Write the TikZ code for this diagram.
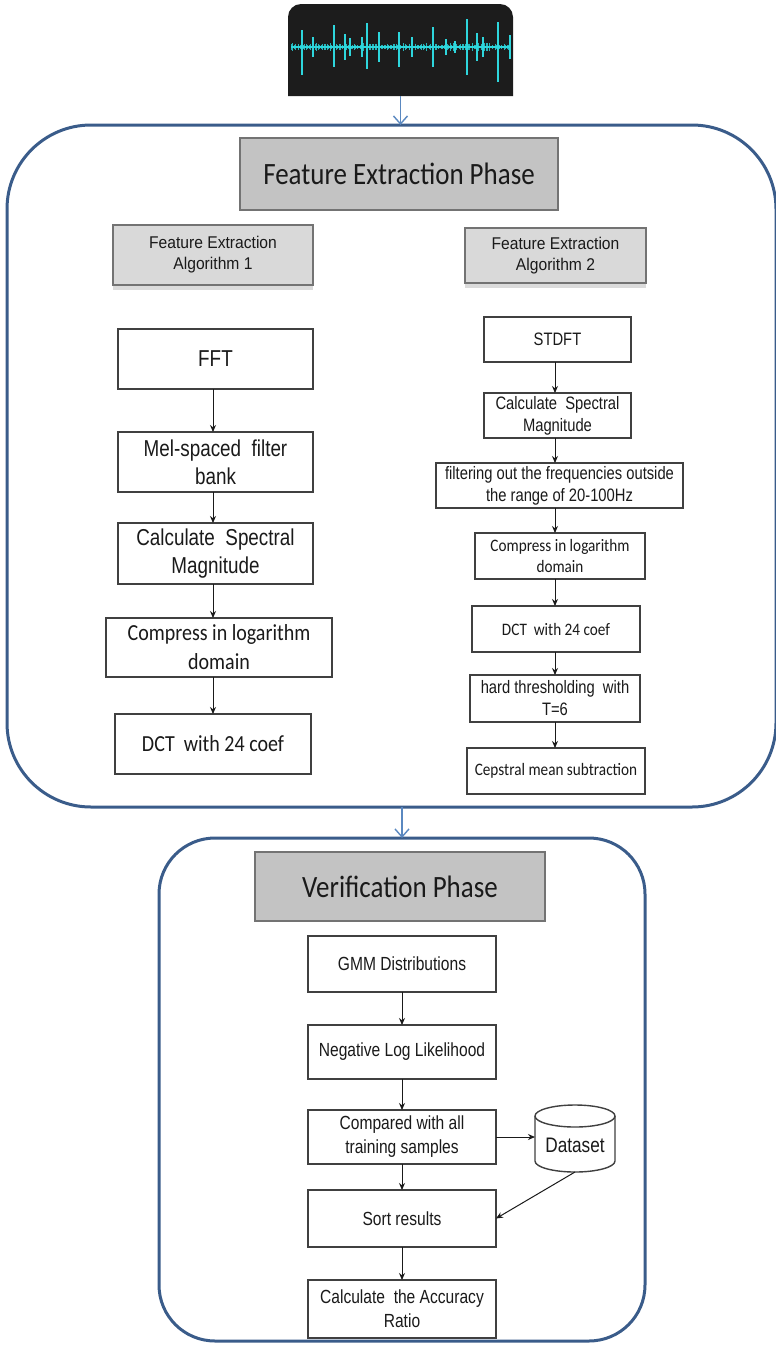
\documentclass[tikz,border=0pt]{standalone}
\usepackage{fontspec}
\setmainfont{Liberation Sans}
\newfontfamily\narr[FakeStretch=0.82]{Liberation Sans}
\newfontfamily\wider[FakeStretch=0.92]{Liberation Sans}
\newfontfamily\calib[FakeStretch=0.87]{Carlito}
\usetikzlibrary{arrows.meta,shadows,calc}

\definecolor{wavebg}{HTML}{1C1C1C}
\definecolor{wavecyan}{HTML}{2ED6DC}
\definecolor{phaseline}{HTML}{3A5C8A}
\definecolor{phasearrow}{HTML}{5A88C0}
\definecolor{headfill}{HTML}{C3C3C3}
\definecolor{subfill}{HTML}{D9D9D9}
\definecolor{frameline}{HTML}{737373}
\definecolor{boxline}{HTML}{404040}
\definecolor{ink}{HTML}{1A1A1A}

\begin{document}
\begin{tikzpicture}[x=0.5pt,y=-0.5pt,
  every node/.style={inner sep=0pt, outer sep=0pt, text=ink},
  flowbox/.style={draw=boxline, line width=0.7pt, fill=white, align=center},
  phasebox/.style={draw=phaseline, line width=1.5pt},
  phasehead/.style={draw=frameline, line width=0.7pt, fill=headfill,
    font=\calib\fontsize{15.5}{18}\selectfont},
  subhead/.style={draw=frameline, line width=0.7pt, fill=subfill, align=center,
    font=\wider\fontsize{8.5}{10.5}\selectfont,
    drop shadow={shadow xshift=0pt, shadow yshift=-2.5pt, fill=black!14, opacity=1}},
  leftar/.style={flowbox, font=\narr\fontsize{11.5}{14}\selectfont},
  leftcal/.style={flowbox, font=\calib\fontsize{11.5}{14.5}\selectfont},
  rightar/.style={flowbox, font=\narr\fontsize{9}{11}\selectfont},
  rightcal/.style={flowbox, font=\calib\fontsize{8.75}{10.5}\selectfont},
  verar/.style={flowbox, font=\narr\fontsize{9.5}{12}\selectfont},
  flowarrow/.style={draw=ink, line width=0.5pt, -{Stealth[length=3.5pt,width=3pt]}},
  phasearr/.style={draw=phasearrow, line width=0.7pt, -{Straight Barb[length=4pt,width=7pt]}},
]
\useasboundingbox (0,0) rectangle (776,1345);

% ---- input signal ----
\node (wave) [minimum width=112.5pt, minimum height=46pt] at (400.5,50) {};
\fill[wavebg] (wave.south west) [rounded corners=6.5pt] -- (wave.north west)
  -- (wave.north east) [sharp corners] -- (wave.south east) -- cycle;
\pgfmathsetseed{11}
\foreach \x in {291,292.5,...,511} {
  \pgfmathsetmacro\h{1+3*rnd}
  \draw[wavecyan!85!black, line width=0.5pt] (\x,{47-\h}) -- (\x,{47+\h});
}
\draw[wavecyan, line width=1.2pt] (291,47) -- (511,47);
\foreach \x/\u/\d in {302/17/28, 313/10/10, 334/22/20, 345/13/13, 350/9/9,
    362/10/10, 367/24/22, 379/15/15, 399/15/20, 412/10/10, 433/20/20,
    446/8/8, 455/6/6, 467/28/28, 477/14/14, 483/10/10, 498/25/35, 510/12/12} {
  \draw[wavecyan!60!black, line width=1.4pt] (\x,{47-\u*0.8}) -- (\x,{47+\d*0.8});
  \draw[wavecyan, line width=0.7pt] (\x,{47-\u}) -- (\x,{47+\d});
}

% ---- feature extraction phase ----
\node (fe) [phasebox, rounded corners=42pt, minimum width=384.5pt, minimum height=341pt] at (391.5,466) {};
\node (fehead) [phasehead, minimum width=159pt, minimum height=36pt] at (399,174) {Feature Extraction Phase};
\node (alg1) [subhead, minimum width=100pt, minimum height=30pt] at (213,255) {Feature Extraction\\Algorithm 1};
\node (alg2) [subhead, minimum width=90.5pt, minimum height=27.5pt] at (555.5,255.5) {Feature Extraction\\Algorithm 2};

% algorithm 1
\node (fft)   [leftar,  minimum width=97.5pt, minimum height=30pt]   at (215.5,359)   {FFT};
\node (mel)   [leftar,  minimum width=97.5pt, minimum height=30pt]   at (215.5,462)   {Mel-spaced~ filter\\bank};
\node (calc1) [leftar,  minimum width=97.5pt, minimum height=30.5pt] at (215.5,553.5) {Calculate~ Spectral\\Magnitude};
\node (comp1) [leftcal, minimum width=113pt,  minimum height=29.5pt] at (219,647.5)   {Compress in logarithm\\domain};
\node (dct1)  [leftcal, minimum width=98pt,   minimum height=30pt]   at (213,744)     {DCT~ with 24 coef};

\draw[flowarrow] (fft.south -| 213,0) -- (mel.north -| 213,0);
\draw[flowarrow] (mel.south -| 213,0) -- (calc1.north -| 213,0);
\draw[flowarrow] (calc1.south -| 213,0) -- (comp1.north -| 213,0);
\draw[flowarrow] (comp1.south -| 213,0) -- (dct1.north);

% algorithm 2
\node (stdft) [rightar,  minimum width=73.5pt,  minimum height=22.5pt] at (557.5,339.5) {STDFT};
\node (calc2) [rightar,  minimum width=73.5pt,  minimum height=22.5pt] at (557.5,415.5) {Calculate~ Spectral\\Magnitude};
\node (filt)  [rightar,  minimum width=123.5pt, minimum height=22.5pt] at (559.5,485.5) {filtering out the frequencies outside\\the range of 20-100Hz};
\node (comp2) [rightcal, minimum width=85pt,    minimum height=23pt]   at (560,556)     {Compress in logarithm\\domain};
\node (dct2)  [rightcal, minimum width=84pt,    minimum height=23pt]   at (556,629)     {DCT~ with 24 coef};
\node (hard)  [rightar,  minimum width=85pt,    minimum height=23.5pt] at (555,698.5)   {hard thresholding~ with\\T=6};
\node (ceps)  [rightcal, minimum width=89pt,    minimum height=23pt]   at (556,771)     {Cepstral mean subtraction};

\draw[flowarrow] (stdft.south -| 555,0) -- (calc2.north -| 555,0);
\draw[flowarrow] (calc2.south -| 555,0) -- (filt.north -| 555,0);
\draw[flowarrow] (filt.south -| 555,0) -- (comp2.north -| 555,0);
\draw[flowarrow] (comp2.south -| 555,0) -- (dct2.north -| 555,0);
\draw[flowarrow] (dct2.south -| 555,0) -- (hard.north -| 555,0);
\draw[flowarrow] (hard.south -| 555,0) -- (ceps.north -| 555,0);

% ---- verification phase ----
\node (ver) [phasebox, rounded corners=28pt, minimum width=243pt, minimum height=251.5pt] at (402,1089.5) {};
\node (verhead) [phasehead, minimum width=145pt, minimum height=34.5pt] at (400,886.5) {Verification Phase};

\node (gmm)  [verar, minimum width=94pt, minimum height=28pt]   at (402,964)    {GMM Distributions};
\node (nll)  [verar, minimum width=94pt, minimum height=27pt]   at (402,1052)   {Negative Log Likelihood};
\node (cmp)  [verar, minimum width=94pt, minimum height=27pt]   at (402,1137)   {Compared with all\\training samples};
\node (sort) [verar, minimum width=94pt, minimum height=28.5pt] at (402,1218.5) {Sort results};
\node (acc)  [verar, minimum width=94pt, minimum height=29pt]   at (402,1309)   {Calculate~ the Accuracy\\Ratio};

% dataset store
\node (dataset) [minimum width=40pt, minimum height=33.5pt, text depth=0pt,
  font=\narr\fontsize{10.5}{12}\selectfont] at (575,1138.5) {};
\draw[boxline, line width=0.7pt, fill=white]
  ([yshift=-5.5pt]dataset.north west) -- ([yshift=5.5pt]dataset.south west)
  arc[start angle=180, end angle=360, x radius=20pt, y radius=5.5pt]
  -- ([yshift=-5.5pt]dataset.north east);
\draw[boxline, line width=0.7pt] ([yshift=-5.5pt]dataset.north) ellipse [x radius=20pt, y radius=5.5pt];
\node (dslabel) [font=\narr\fontsize{10.5}{12}\selectfont] at ([yshift=-3.5pt]dataset.center) {Dataset};

\draw[flowarrow] (gmm) -- (nll);
\draw[flowarrow] (nll) -- (cmp);
\draw[flowarrow] (cmp) -- (sort);
\draw[flowarrow] (sort) -- (acc);
\draw[flowarrow] (cmp.east) -- (cmp.east -| dataset.west);
\draw[flowarrow] (dataset.south) -- (sort.east);

% ---- phase links ----
\draw[phasearr] (wave.south) -- (wave.south |- fe.north);
\draw[phasearr] (fe.south -| ver.north) -- (ver.north);
\end{tikzpicture}
\end{document}
